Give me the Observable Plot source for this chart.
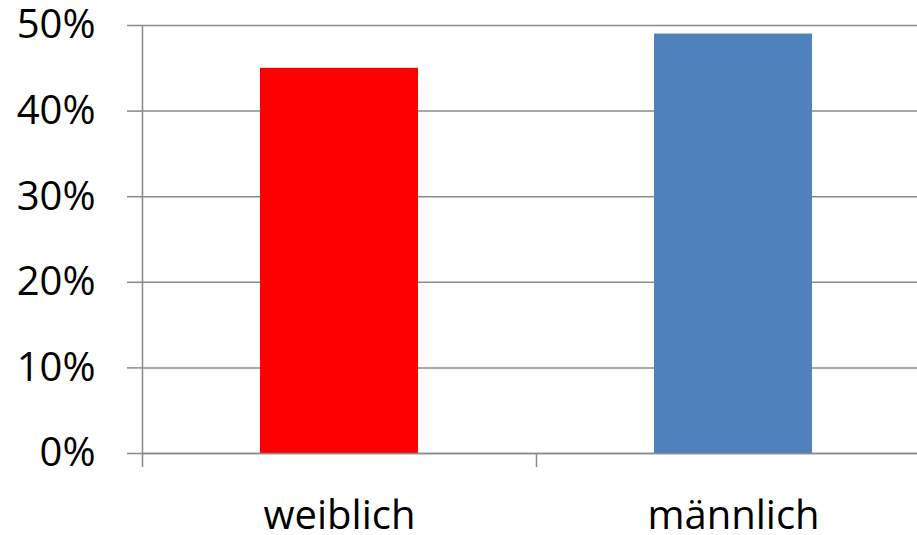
<!DOCTYPE html>
<html>
<head>
<meta charset="utf-8">
<script src="https://cdn.jsdelivr.net/npm/d3@7"></script>
<script src="https://cdn.jsdelivr.net/npm/@observablehq/plot@0.6"></script>
<style>
  html, body { margin: 0; padding: 0; background: #fff; }
  #chart svg { display: block; }
</style>
</head>
<body>
<div id="chart"></div>
<script>
const categories = ["weiblich", "männlich"];
const values = [45, 49];
const colors = ["#FF0000", "#4F81BD"];
const yTicks = [0, 10, 20, 30, 40, 50];

const data = categories.map((c, i) => ({category: c, value: values[i], color: colors[i]}));
const gridColor = "#8a8a8a";

const chart = Plot.plot({
  width: 917,
  height: 535,
  marginTop: 25,
  marginBottom: 82,
  marginLeft: 142,
  marginRight: 0,
  style: {fontFamily: "'Open Sans', sans-serif", fontSize: "40px", color: "#000", background: "#fff"},
  x: {domain: categories, range: [142, 930], padding: 0, label: null},
  y: {domain: [0, 50], label: null},
  marks: [
    Plot.ruleY(yTicks, {stroke: gridColor, strokeWidth: 1.5}),
    Plot.axisY(yTicks, {tickFormat: d => d + "%", tickSize: 15, tickPadding: 32, stroke: gridColor, strokeWidth: 1.5, fontSize: 40, fill: "#000", label: null}),
    Plot.barY(data, {x: "category", y: "value", fill: "color", insetLeft: 118, insetRight: 118}),
    Plot.ruleY([0], {stroke: gridColor, strokeWidth: 1.5}),
    Plot.ruleX([categories[0]], {y1: 50, y2: 0, dx: -197, insetBottom: -14, stroke: gridColor, strokeWidth: 1.5}),
    Plot.ruleX(categories.slice(1), {y1: 0, y2: 0, dx: -197, insetBottom: -14, stroke: gridColor, strokeWidth: 1.5}),
    Plot.axisX({tickSize: 0, tickPadding: 47, fontSize: 40, fill: "#000", label: null})
  ]
});
document.getElementById("chart").appendChild(chart);
</script>
</body>
</html>
